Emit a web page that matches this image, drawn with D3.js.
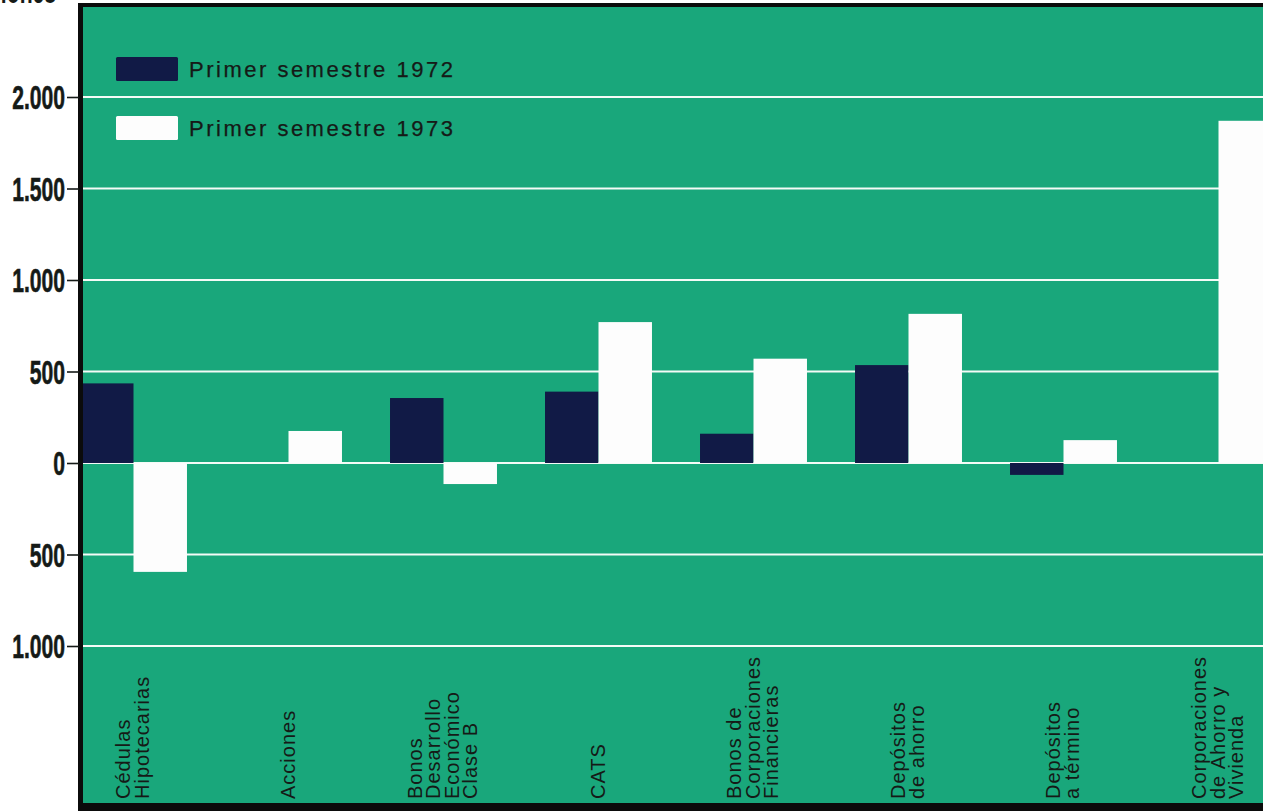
<!DOCTYPE html>
<html lang="es">
<head>
<meta charset="utf-8">
<script src="https://cdn.jsdelivr.net/npm/d3@7"></script>
<style>
  html, body { margin: 0; padding: 0; background: #ffffff; }
  svg { display: block; }
</style>
</head>
<body>
<svg id="chart" width="1263" height="811"></svg>
<script>
// Categories (each label line is drawn as one rotated text line)
const categories = [
  "Cédulas Hipotecarias",
  "Acciones",
  "Bonos Desarrollo Económico Clase B",
  "CATS",
  "Bonos de Corporaciones Financieras",
  "Depósitos de ahorro",
  "Depósitos a término",
  "Corporaciones de Ahorro y Vivienda"
];
const categoryLines = [
  ["Cédulas", "Hipotecarias"],
  ["Acciones"],
  ["Bonos", "Desarrollo", "Económico", "Clase B"],
  ["CATS"],
  ["Bonos de", "Corporaciones", "Financieras"],
  ["Depósitos", "de ahorro"],
  ["Depósitos", "a término"],
  ["Corporaciones", "de Ahorro y", "Vivienda"]
];

// Series values (millones de pesos)
const seriesNames = ["Primer semestre 1972", "Primer semestre 1973"];
const values1972 = [435, 0, 355, 390, 160, 535, -65, 0];
const values1973 = [-595, 175, -115, 770, 570, 815, 125, 1870];

// Y axis ticks and their printed labels
const yTickValues = [-1000, -500, 0, 500, 1000, 1500, 2000];
const yTickLabels = ["1.000", "500", "0", "500", "1.000", "1.500", "2.000"];

const W = 1263, H = 811;
const panel = { left: 83, top: 7, right: 1263, bottom: 803 };
const GREEN = "#19a77b";
const NAVY = "#111a46";
const WHITE = "#fdfdfd";
const INK = "#151a17";
const NARROW = 0.64; // horizontal squeeze for the condensed numerals

const svg = d3.select("#chart");

// Scales
const y = d3.scaleLinear().domain([-1000, 2000]).range([646, 97]);
const x = d3.scaleBand()
  .domain(categories)
  .range([56, 56 + 8 * 155])
  .paddingInner(0.31)
  .paddingOuter(0.155);
const xs = d3.scaleBand()
  .domain(seriesNames)
  .range([0, x.bandwidth()])
  .padding(0);
const colors = d3.scaleOrdinal().domain(seriesNames).range([NAVY, WHITE]);

// Unit caption at the very top, mostly above the page edge
svg.append("text")
  .attr("transform", `translate(56,3) scale(${NARROW},1)`)
  .attr("text-anchor", "end")
  .attr("font-family", "'Liberation Sans', Arial, sans-serif")
  .attr("font-weight", "bold")
  .attr("font-size", 33)
  .attr("fill", INK)
  .text("Millones");

// Black frame and green panel
svg.append("rect")
  .attr("x", 78).attr("y", 3)
  .attr("width", W - 78).attr("height", H - 3)
  .attr("fill", "#0b0b0b");
svg.append("rect")
  .attr("x", panel.left).attr("y", panel.top)
  .attr("width", panel.right - panel.left).attr("height", panel.bottom - panel.top)
  .attr("fill", GREEN);

const defs = svg.append("defs");
defs.append("clipPath").attr("id", "panel-clip")
  .append("rect")
  .attr("x", panel.left).attr("y", panel.top)
  .attr("width", panel.right - panel.left).attr("height", panel.bottom - panel.top);

const plot = svg.append("g").attr("clip-path", "url(#panel-clip)");

// Gridlines
plot.append("g")
  .selectAll("line")
  .data(yTickValues)
  .join("line")
  .attr("x1", panel.left).attr("x2", panel.right)
  .attr("y1", d => y(d)).attr("y2", d => y(d))
  .attr("stroke", "#f4fbf7")
  .attr("stroke-width", 2.2);

// Bars
const rows = categories.map((c, i) => ({
  category: c,
  items: [
    { series: seriesNames[0], value: values1972[i] },
    { series: seriesNames[1], value: values1973[i] }
  ]
}));

plot.append("g")
  .selectAll("g")
  .data(rows)
  .join("g")
  .attr("transform", d => `translate(${x(d.category)},0)`)
  .selectAll("rect")
  .data(d => d.items.filter(it => it.value !== 0))
  .join("rect")
  .attr("x", d => xs(d.series))
  .attr("width", xs.bandwidth())
  .attr("y", d => y(Math.max(0, d.value)))
  .attr("height", d => Math.abs(y(d.value) - y(0)))
  .attr("fill", d => colors(d.series));

// Y axis: ticks outside the frame, bold condensed labels
const yAxis = d3.axisLeft(y)
  .tickValues(yTickValues)
  .tickFormat((d, i) => yTickLabels[i])
  .tickSize(12)
  .tickPadding(2);

const gy = svg.append("g")
  .attr("transform", "translate(79,0)")
  .call(yAxis);
gy.select(".domain").remove();
gy.selectAll(".tick line").attr("stroke", INK).attr("stroke-width", 1.6);
gy.selectAll(".tick text")
  .attr("x", null)
  .attr("transform", `translate(-14,0) scale(${NARROW},1)`)
  .attr("fill", INK)
  .attr("stroke", INK)
  .attr("stroke-width", 0.6)
  .attr("font-family", "'Liberation Sans', Arial, sans-serif")
  .attr("font-weight", "bold")
  .attr("font-size", 33)
  .attr("dy", "0.36em");

// Legend
const legend = svg.append("g");
const legendItems = legend.selectAll("g")
  .data(seriesNames)
  .join("g")
  .attr("transform", (d, i) => `translate(116,${57 + i * 59})`);
legendItems.append("rect")
  .attr("width", 62).attr("height", 24).attr("rx", 1.5)
  .attr("fill", d => colors(d));
legendItems.append("text")
  .attr("x", 73).attr("y", 20)
  .attr("font-family", "'Liberation Sans', Arial, sans-serif")
  .attr("font-size", 22)
  .attr("letter-spacing", 2.5)
  .attr("stroke", INK)
  .attr("stroke-width", 0.25)
  .attr("fill", INK)
  .text(d => d);

// Category labels: rotated, reading upward from the bottom of the panel
const lineGap = 18.3;
const labels = svg.append("g");
categories.forEach((c, i) => {
  const lines = categoryLines[i];
  const cx = x(c) + x.bandwidth() / 2;
  const firstBase = cx - ((lines.length - 1) * lineGap) / 2 + 6;
  lines.forEach((ln, j) => {
    const bx = firstBase + j * lineGap;
    labels.append("text")
      .attr("transform", `translate(${bx},799) rotate(-90)`)
      .attr("font-family", "'Liberation Sans', Arial, sans-serif")
      .attr("font-size", 20)
      .attr("letter-spacing", 1)
      .attr("fill", INK)
      .text(ln);
  });
});
</script>
</body>
</html>
